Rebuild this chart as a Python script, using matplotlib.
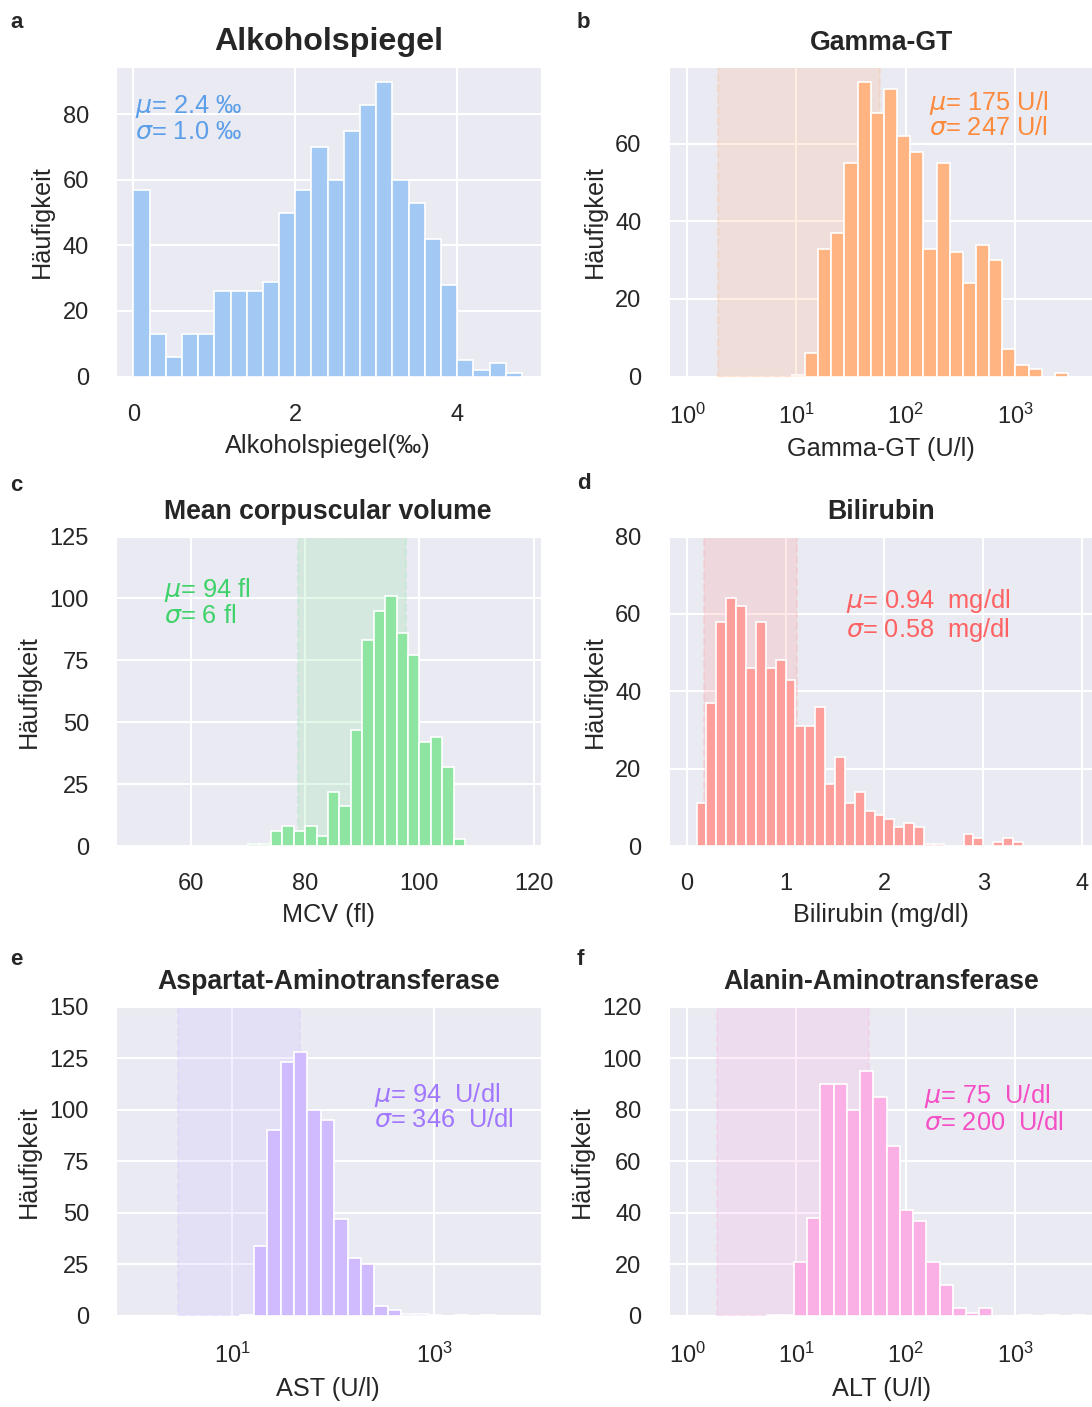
import numpy as np
import matplotlib
matplotlib.use('Agg')
import matplotlib.pyplot as plt
from matplotlib.ticker import NullLocator
import seaborn as sns

sns.set_style('darkgrid')
plt.rcParams['font.family'] = ['Liberation Sans', 'DejaVu Sans']
plt.rcParams['mathtext.fontset'] = 'dejavusans'

# a: Alkoholspiegel, linear bins
alk_start, alk_step = 0.0, 0.2
alk_counts = [57, 13, 6, 13, 13, 26, 26, 26, 29, 50, 57, 70, 60, 75, 83, 90, 60, 53, 42, 28, 5, 2, 4, 1]

# b: Gamma-GT, bins in log10
ggt_start, ggt_step = 0.957, 0.1203
ggt_counts = [0.3, 6, 33, 37, 55, 76, 68, 74, 62, 58, 33, 55, 32, 24, 34, 30, 7, 3, 2, 0, 1]
ggt_range = (1.92, 58)

# c: MCV
mcv_start, mcv_step = 70, 2
mcv_counts = [1, 1, 6, 8, 6, 8, 4, 22, 16, 47, 83, 95, 101, 86, 77, 42, 44, 32, 3]
mcv_range = (78.7, 97.6)

# d: Bilirubin
bili_start, bili_step = 0.1, 0.1
bili_counts = [11, 37, 58, 64, 62, 46, 58, 46, 48, 43, 31, 31, 36, 16, 23, 11, 14, 9, 8, 7,
               5, 6, 5, 0.5, 0.5, 0, 0, 3, 2, 0, 1, 2, 1]
bili_range = (0.174, 1.118)

# e: AST, bins in log10
ast_start, ast_step = 1.08, 0.1328
ast_counts = [0.5, 34, 90, 123, 128, 100, 95, 47, 28, 25, 5, 3, 1, 1, 0.3, 0, 0.3, 0, 0.3]
ast_range = (2.9, 47)

# f: ALT, bins in log10
alt_start, alt_step = 0.735, 0.121
alt_counts = [0.3, 0.3, 21, 38, 90, 90, 80, 95, 85, 66, 41, 37, 21, 12, 3, 1, 3, 0, 0, 0.3, 0, 0.3, 0, 0.3]
alt_range = (1.88, 46)

bar_cols = ['#a1c9f4', '#ffb482', '#8de5a1', '#ff9f9b', '#d0bbff', '#fab0e4']
txt_cols = ['#5b9ee9', '#fd8a3d', '#3ed26a', '#ff6262', '#a177ff', '#f54fc6']

W, H = 1092, 1407
fig = plt.figure(figsize=(W / 100, H / 100), dpi=100)


def make_ax(left, top, width=424.5, height=309.5):
    return fig.add_axes([left / W, 1 - (top + height) / H, width / W, height / H])


def draw_hist(ax, start, step, counts, color, log=False):
    counts = np.array(counts, dtype=float)
    edges = start + step * np.arange(len(counts) + 1)
    if log:
        edges = 10 ** edges
    keep = counts > 0
    ax.bar(edges[:-1][keep], counts[keep], width=np.diff(edges)[keep], align='edge',
           color=color, edgecolor='white', linewidth=1.2, zorder=2)


def style(ax, title, xlabel, tsize=19.2):
    ax.set_title(title, fontsize=tsize, fontweight='bold', pad=12.5)
    ax.set_xlabel(xlabel, fontsize=18.2, labelpad=6)
    ax.set_ylabel('Häufigkeit', fontsize=18.2, labelpad=6)
    ax.tick_params(labelsize=17, length=0, pad=19.5)
    ax.grid(True, color='white', linewidth=1.5)


def stats(ax, x, y1, y2, l1, l2, c):
    ax.text(x, y1, l1, transform=ax.transAxes, color=c, fontsize=18.3, va='baseline', zorder=5)
    ax.text(x, y2, l2, transform=ax.transAxes, color=c, fontsize=18.3, va='baseline', zorder=5)


def span(ax, rng, c):
    ax.axvspan(rng[0], rng[1], color=c, alpha=0.23, ls='--', lw=1.5, zorder=1)


# a
ax = make_ax(116, 67)
draw_hist(ax, alk_start, alk_step, alk_counts, bar_cols[0])
ax.set_xlim(-0.216, 5.03)
ax.set_xticks([0, 2, 4])
ax.set_yticks([0, 20, 40, 60, 80])
ax.set_ylim(0, 94.5)
style(ax, 'Alkoholspiegel', 'Alkoholspiegel(‰)', tsize=23.2)
stats(ax, 0.045, 0.850, 0.766, '$\\mu$= 2.4 ‰', '$\\sigma$= 1.0 ‰', txt_cols[0])

# b
ax = make_ax(668.5, 67, width=425.5)
ax.set_xscale('log')
span(ax, ggt_range, bar_cols[1])
draw_hist(ax, ggt_start, ggt_step, ggt_counts, bar_cols[1], log=True)
ax.set_xlim(10 ** -0.17, 10 ** 3.72)
ax.set_xticks([1, 10, 100, 1000])
ax.xaxis.set_minor_locator(NullLocator())
ax.set_yticks([0, 20, 40, 60])
ax.set_ylim(0, 79.8)
style(ax, 'Gamma-GT', 'Gamma-GT (U/l)')
stats(ax, 0.612, 0.861, 0.780, '$\\mu$= 175 U/l', '$\\sigma$= 247 U/l', txt_cols[1])

# c
ax = make_ax(116, 536.5)
span(ax, mcv_range, bar_cols[2])
draw_hist(ax, mcv_start, mcv_step, mcv_counts, bar_cols[2])
ax.set_xlim(46.9, 121.2)
ax.set_xticks([60, 80, 100, 120])
ax.set_yticks([0, 25, 50, 75, 100, 125])
ax.set_ylim(0, 125)
style(ax, 'Mean corpuscular volume', 'MCV (fl)')
stats(ax, 0.113, 0.805, 0.720, '$\\mu$= 94 fl', '$\\sigma$= 6 fl', txt_cols[2])

# d
ax = make_ax(668.5, 536.5, width=425.5)
span(ax, bili_range, bar_cols[3])
draw_hist(ax, bili_start, bili_step, bili_counts, bar_cols[3])
ax.set_xlim(-0.184, 4.12)
ax.set_xticks([0, 1, 2, 3, 4])
ax.set_yticks([0, 20, 40, 60, 80])
ax.set_ylim(0, 80)
style(ax, 'Bilirubin', 'Bilirubin (mg/dl)')
stats(ax, 0.417, 0.768, 0.676, '$\\mu$= 0.94  mg/dl', '$\\sigma$= 0.58  mg/dl', txt_cols[3])

# e
ax = make_ax(116, 1006.5)
ax.set_xscale('log')
span(ax, ast_range, bar_cols[4])
draw_hist(ax, ast_start, ast_step, ast_counts, bar_cols[4], log=True)
ax.set_xlim(10 ** -0.153, 10 ** 4.056)
ax.set_xticks([10, 1000])
ax.xaxis.set_minor_locator(NullLocator())
ax.set_yticks([0, 25, 50, 75, 100, 125, 150])
ax.set_ylim(0, 150)
style(ax, 'Aspartat-Aminotransferase', 'AST (U/l)')
stats(ax, 0.608, 0.692, 0.612, '$\\mu$= 94  U/dl', '$\\sigma$= 346  U/dl', txt_cols[4])

# f
ax = make_ax(668.5, 1006.5, width=425.5)
ax.set_xscale('log')
span(ax, alt_range, bar_cols[5])
draw_hist(ax, alt_start, alt_step, alt_counts, bar_cols[5], log=True)
ax.set_xlim(10 ** -0.17, 10 ** 3.72)
ax.set_xticks([1, 10, 100, 1000])
ax.xaxis.set_minor_locator(NullLocator())
ax.set_yticks([0, 20, 40, 60, 80, 100, 120])
ax.set_ylim(0, 120)
style(ax, 'Alanin-Aminotransferase', 'ALT (U/l)')
stats(ax, 0.600, 0.687, 0.601, '$\\mu$= 75  U/dl', '$\\sigma$= 200  U/dl', txt_cols[5])

# panel letters
for lab, px, py in [('a', 10, 28), ('b', 577, 28), ('c', 10, 491),
                    ('d', 577, 489), ('e', 10, 965), ('f', 577, 965)]:
    fig.text(px / W, 1 - py / H, lab, fontsize=16, fontweight='bold', va='baseline')

fig.savefig('out.png', dpi=100)
